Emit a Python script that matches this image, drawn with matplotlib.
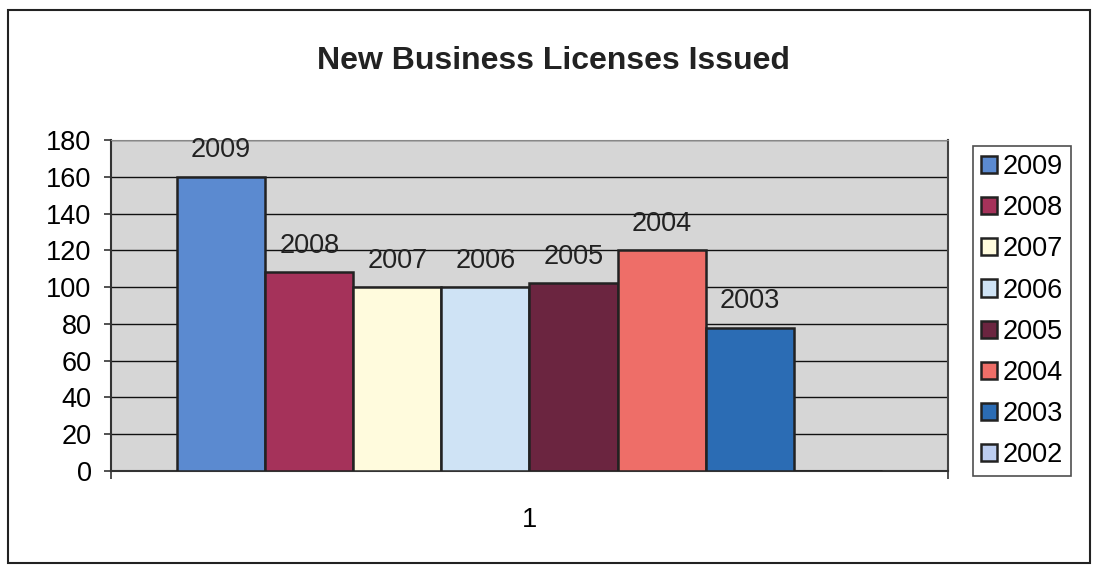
import numpy as np
import matplotlib.pyplot as plt
from matplotlib.patches import Rectangle

plt.rcParams['font.family'] = ['Liberation Sans', 'DejaVu Sans']

years = ['2009', '2008', '2007', '2006', '2005', '2004', '2003', '2002']
licenses = [160, 108, 100, 100, 102, 120, 78, np.nan]
colors = ['#5B8AD0', '#A5325A', '#FFFBDD', '#CFE3F5', '#6B2540', '#EE6E68', '#2B6CB4', '#BCCDF0']

fig = plt.figure(figsize=(10.94, 5.67), dpi=100)
ax = fig.add_axes([0.1015, 0.1693, 0.765, 0.5838])
ax.set_facecolor('#D6D6D6')

# one category, eight series side by side, 150% gap
n = len(years)
w = 1.0 / (n + 1.5)
for i, (yr, v, c) in enumerate(zip(years, licenses, colors)):
    x = (i - (n - 1) / 2) * w
    ax.bar(x, 0 if np.isnan(v) else v, width=w, color=c, edgecolor='#222222',
           linewidth=1.8, label=yr, zorder=3)
    if not np.isnan(v):
        ax.annotate(yr, (x, v), xytext=(0, 14), textcoords='offset points',
                    ha='center', va='baseline', fontsize=19.5, color='#222222', zorder=4)

ax.set_xlim(-0.5, 0.5)
ax.set_ylim(0, 180)
ax.set_yticks(range(0, 181, 20))
ax.yaxis.grid(True, color='#111111', linewidth=1.0, zorder=1)
ax.set_xticks([-0.5, 0.5])
ax.set_xticklabels([])
ax.set_xticks([0], minor=True)
ax.set_xticklabels(['1'], minor=True)
ax.tick_params(axis='x', which='minor', length=0, pad=26, labelsize=19.5)
ax.tick_params(axis='x', which='major', direction='out', length=6, width=1.2, color='#333333')
ax.tick_params(axis='y', direction='out', length=5, width=1.2, color='#333333',
               labelsize=19.5, pad=9)

for side in ['left', 'bottom']:
    ax.spines[side].set_color('#333333')
    ax.spines[side].set_linewidth(1.5)
ax.spines['top'].set_color('#888888')
ax.spines['right'].set_color('#444444')
ax.spines['right'].set_linewidth(1.5)

fig.text(0.506, 0.893, 'New Business Licenses Issued', ha='center', va='center',
         fontsize=23, fontweight='bold', color='#222222')

leg = ax.legend(loc='upper left', bbox_to_anchor=(1.03, 0.982), fontsize=19.5,
                frameon=True, fancybox=False, edgecolor='#222222', handlelength=0.6,
                handleheight=0.6, handletextpad=0.2, labelspacing=0.56,
                borderpad=0.3, borderaxespad=0)
leg.get_frame().set_linewidth(1.2)

# outer chart border
fig.patches.append(Rectangle((8 / 1094, 1 - 563 / 567), 1082 / 1094, 553 / 567,
                             transform=fig.transFigure, fill=False,
                             edgecolor='#222222', linewidth=1.5))

fig.savefig('out.png', dpi=100)
